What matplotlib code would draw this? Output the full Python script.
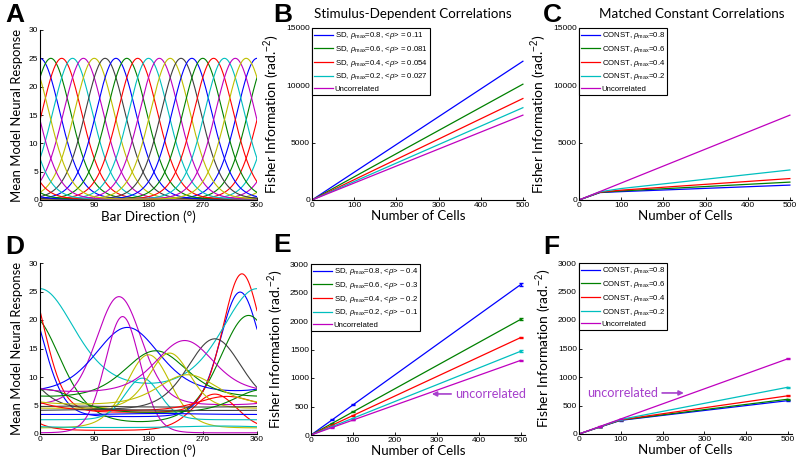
import numpy as np
import matplotlib
matplotlib.use('Agg')
import matplotlib.pyplot as plt
from matplotlib.lines import Line2D

plt.rcParams['font.family'] = ['Lato', 'DejaVu Sans']
plt.rcParams['mathtext.fontset'] = 'custom'
plt.rcParams['mathtext.rm'] = 'Liberation Sans'
plt.rcParams['mathtext.it'] = 'Liberation Sans:italic'

# MATLAB-style line colour order
line_cols = [(0, 0, 1), (0, 0.5, 0), (1, 0, 0), (0, 0.75, 0.75),
             (0.75, 0, 0.75), (0.75, 0.75, 0), (0.25, 0.25, 0.25)]
purple = (0.65, 0.25, 0.8)

# Panel A: homogeneous tuning curves (preferred direction, deg)
a_pref = [0, 18, 36, 54, 72, 90, 108, 126, 144, 162,
          180, 198, 216, 234, 252, 270, 288, 306, 324, 342]
a_peak = 25.0
a_base = 0.1
a_kappa = 3.0

# Panel D: heterogeneous tuning curves
d_pref = [332, 346, 335, 0, 131, 180, 290, 145, 192, 290, 170,
          137, 215, 60, 200, 10, 310, 300, 240, 245, 100]
d_peak = [24.9, 20.8, 28.1, 25.5, 24.1, 13.9, 16.7, 18.7, 14.6, 7.0, 9.8,
          20.6, 14.2, 4.9, 3.6, 7.8, 6.6, 1.4, 16.4, 10.4, 4.3]
d_base = [3.0, 1.2, 3.8, 6.3, 5.0, 1.0, 4.0, 6.5, 6.0, 0.6, 2.5,
          0.2, 4.5, 4.7, 3.4, 3.6, 4.0, 1.1, 7.0, 5.0, 4.1]
d_kappa = [3.0, 1.5, 3.3, 1.0, 2.4, 2.5, 1.7, 1.2, 1.3, 2.5, 4.0,
           4.0, 3.0, 1.0, 1.0, 1.5, 1.5, 1.0, 1.5, 1.5, 1.0]

# Fisher information vs number of cells
n_cells = [0, 50, 100, 500]

b_labels = [r'SD, $\rho_{\mathrm{max}}$=0.8, <$\rho$> = 0.11',
            r'SD, $\rho_{\mathrm{max}}$=0.6, <$\rho$> = 0.081',
            r'SD, $\rho_{\mathrm{max}}$=0.4, <$\rho$> = 0.054',
            r'SD, $\rho_{\mathrm{max}}$=0.2, <$\rho$> = 0.027',
            'Uncorrelated']
b_info = [[0, 1210, 2420, 12100],
          [0, 1010, 2020, 10100],
          [0, 885, 1770, 8850],
          [0, 805, 1610, 8050],
          [0, 740, 1480, 7400]]

c_labels = [r'CONST, $\rho_{\mathrm{max}}$=0.8',
            r'CONST, $\rho_{\mathrm{max}}$=0.6',
            r'CONST, $\rho_{\mathrm{max}}$=0.4',
            r'CONST, $\rho_{\mathrm{max}}$=0.2',
            'Uncorrelated']
c_info = [[0, 650, 730, 1300],
          [0, 670, 790, 1560],
          [0, 690, 860, 1870],
          [0, 720, 1000, 2620],
          [0, 740, 1480, 7400]]

e_labels = [r'SD, $\rho_{\mathrm{max}}$=0.8, <$\rho$> ~ 0.4',
            r'SD, $\rho_{\mathrm{max}}$=0.6, <$\rho$> ~ 0.3',
            r'SD, $\rho_{\mathrm{max}}$=0.4, <$\rho$> ~ 0.2',
            r'SD, $\rho_{\mathrm{max}}$=0.2, <$\rho$> ~ 0.1',
            'Uncorrelated']
e_info = [[0, 264, 528, 2640],
          [0, 203, 406, 2030],
          [0, 171, 342, 1710],
          [0, 147, 294, 1470],
          [0, 131, 262, 1310]]
e_err = [[0, 8, 10, 25],
         [0, 6, 8, 20],
         [0, 5, 7, 16],
         [0, 5, 6, 14],
         [0, 4, 5, 12]]

f_labels = c_labels
f_info = [[0, 122, 240, 585],
          [0, 124, 245, 610],
          [0, 126, 250, 670],
          [0, 128, 255, 820],
          [0, 132, 264, 1320]]
f_err = [[0, 3, 4, 10],
         [0, 3, 4, 10],
         [0, 3, 4, 10],
         [0, 3, 4, 10],
         [0, 3, 5, 12]]


def tuning(theta, pref, peak, base, kappa):
    d = np.deg2rad(theta - pref)
    return base + (peak - base) * np.exp(kappa * (np.cos(d) - 1))


W, H = 800, 467
fig = plt.figure(figsize=(W / 100, H / 100), dpi=100)


def make_ax(x0, y0, x1, y1):
    ax = fig.add_axes([x0 / W, 1 - y1 / H, (x1 - x0) / W, (y1 - y0) / H])
    ax.spines['top'].set_visible(False)
    ax.spines['right'].set_visible(False)
    for s in ('left', 'bottom'):
        ax.spines[s].set_linewidth(0.8)
    ax.tick_params(direction='in', length=2, width=0.6, labelsize=6, pad=1.5)
    return ax


def style_ticks(ax):
    for lab in ax.get_xticklabels() + ax.get_yticklabels():
        lab.set_family('Liberation Sans')


theta = np.linspace(0, 360, 361)

# ---- A and D: tuning curves
ax_a = make_ax(40, 30, 257, 200)
for i, p in enumerate(a_pref):
    ax_a.plot(theta, tuning(theta, p, a_peak, a_base, a_kappa),
              color=line_cols[i % 7], lw=0.8)

ax_d = make_ax(40, 263, 257, 434)
for i in range(len(d_pref)):
    ax_d.plot(theta, tuning(theta, d_pref[i], d_peak[i], d_base[i], d_kappa[i]),
              color=line_cols[i % 7], lw=0.8)

for ax in (ax_a, ax_d):
    ax.set_xlim(0, 360)
    ax.set_ylim(0, 30)
    ax.set_xticks([0, 90, 180, 270, 360])
    ax.set_yticks([0, 5, 10, 15, 20, 25, 30])
    ax.set_xlabel('Bar Direction (°)', fontsize=9.6, labelpad=1)
    ax.set_ylabel('Mean Model Neural Response', fontsize=9.4, labelpad=4)
    style_ticks(ax)


def info_panel(ax, info, labels, err=None, ymax=15000, ystep=5000, xmax=505):
    handles = []
    for i, vals in enumerate(info):
        col = line_cols[i]
        ax.plot(n_cells, vals, color=col, lw=0.9)
        if err is not None:
            ax.errorbar(n_cells, vals, yerr=err[i], color=col, lw=0,
                        capsize=1.5, elinewidth=1.0, capthick=1.0)
        handles.append(Line2D([], [], color=col, lw=0.9))
    ax.set_xlim(0, xmax)
    ax.set_ylim(0, ymax)
    ax.set_xticks([0, 100, 200, 300, 400, 500])
    ax.set_yticks(np.arange(0, ymax + 1, ystep))
    ax.set_xlabel('Number of Cells', fontsize=9.5, labelpad=1)
    ax.set_ylabel(r'Fisher Information (rad.$^{-2}$)', fontsize=10, labelpad=3)
    leg = ax.legend(handles, labels, loc='upper left', borderaxespad=0,
                    fancybox=False, edgecolor='black', framealpha=1,
                    handlelength=2.4, handletextpad=0.2, labelspacing=0.35,
                    borderpad=0.3, prop={'family': 'Liberation Sans', 'size': 5.6})
    leg.get_frame().set_linewidth(0.8)
    style_ticks(ax)


ax_b = make_ax(312, 28, 525, 200)
info_panel(ax_b, b_info, b_labels)
ax_c = make_ax(579, 28, 792, 200)
info_panel(ax_c, c_info, c_labels)
ax_e = make_ax(311, 264, 525, 435)
info_panel(ax_e, e_info, e_labels, err=e_err, ymax=3000, ystep=500, xmax=510)
ax_f = make_ax(579, 263, 792, 434)
info_panel(ax_f, f_info, f_labels, err=f_err, ymax=3000, ystep=500, xmax=510)

arrow = dict(arrowstyle='-|>', color=purple, lw=1.2, mutation_scale=7,
             shrinkA=1, shrinkB=0)
ax_e.annotate('uncorrelated', xy=(288, 720), xytext=(344, 720),
              ha='left', va='center', color=purple, fontsize=9.2,
              arrowprops=arrow, annotation_clip=False)
ax_f.annotate('uncorrelated', xy=(251, 720), xytext=(19, 720),
              ha='left', va='center', color=purple, fontsize=9.2,
              arrowprops=arrow)

# titles and panel letters
fig.text(413 / W, 1 - 14 / H, 'Stimulus-Dependent Correlations',
         ha='center', va='center', fontsize=9.6)
fig.text(692 / W, 1 - 14 / H, 'Matched Constant Correlations',
         ha='center', va='center', fontsize=9.6)
for letter, x, y in [('A', 5, 15), ('B', 273, 15), ('C', 543, 15),
                     ('D', 5, 247), ('E', 273, 245), ('F', 543, 247)]:
    fig.text(x / W, 1 - y / H, letter, ha='left', va='center',
             fontsize=19, fontweight='bold', family='Liberation Sans')

fig.savefig('out.png', dpi=100)
